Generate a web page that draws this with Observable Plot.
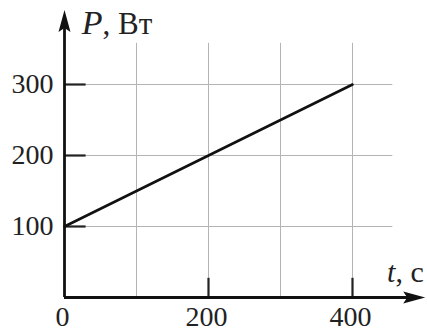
<!DOCTYPE html>
<html>
<head>
<meta charset="utf-8">
<script src="https://cdn.jsdelivr.net/npm/d3@7"></script>
<script src="https://cdn.jsdelivr.net/npm/@observablehq/plot@0.6"></script>
<style>
  html, body { margin: 0; padding: 0; background: #fff; }
  svg { display: block; }
</style>
</head>
<body>
<div id="chart"></div>
<script>
// Data
const times = [0, 400];          // t, c
const powers = [100, 300];       // P, Вт
const xGrid = [100, 200, 300, 400];
const yGrid = [100, 200, 300];
const xTickLabels = [0, 200, 400];
const xTickMarks = [200, 400];
const yTickLabels = [100, 200, 300];
const yLabel = "P, Вт";
const xLabel = "t, c";

const series = times.map((t, i) => ({t, p: powers[i]}));

const font = "Liberation Serif, Times New Roman, serif";
const arrowHead = {
  draw(context, l) {
    context.moveTo(0, -l);
    context.lineTo(-6, 0);
    context.lineTo(0, -4);
    context.lineTo(6, 0);
    context.closePath();
  }
};

const chart = Plot.plot({
  width: 427,
  height: 332,
  style: {fontFamily: font, background: "#fff", color: "#111"},
  x: {domain: [0, 400], range: [64, 352], axis: null},
  y: {domain: [0, 300], range: [297, 84], axis: null},
  marks: [
    // grid
    Plot.ruleX(xGrid, {x: d => d, y1: 0, y2: 358, stroke: "#b4b4b4", strokeWidth: 1}),
    Plot.ruleY(yGrid, {y: d => d, x1: 0, x2: 456, stroke: "#b4b4b4", strokeWidth: 1}),
    // tick marks
    Plot.ruleY(yTickLabels, {y: d => d, x1: 0, x2: 30, stroke: "#222", strokeWidth: 2.2}),
    Plot.ruleX(xTickMarks, {x: d => d, y1: 0, y2: 27, stroke: "#222", strokeWidth: 2.2}),
    // axes
    Plot.ruleX([0], {y1: 0, y2: 385, stroke: "#111", strokeWidth: 2.8}),
    Plot.ruleY([0], {x1: 0, x2: 490, stroke: "#111", strokeWidth: 2.8}),
    Plot.vector([0], {x: 0, y: 405, length: 22, rotate: 0, anchor: "end", shape: arrowHead, fill: "#111", stroke: "none"}),
    Plot.vector([0], {x: 501, y: 0, length: 22, rotate: 90, anchor: "end", shape: arrowHead, fill: "#111", stroke: "none"}),
    // data line
    Plot.line(series, {x: "t", y: "p", stroke: "#111", strokeWidth: 2.6}),
    // tick labels
    Plot.text(yTickLabels, {x: 0, y: d => d, text: d => String(d), dx: -11, textAnchor: "end", fontSize: 28, fill: "#222"}),
    Plot.text(xTickLabels, {x: d => d, y: 0, text: d => String(d), dx: -2, dy: 20, textAnchor: "middle", fontSize: 28, fill: "#222"}),
    // axis labels
    Plot.text([yLabel], {x: 24, y: 385, text: d => d, textAnchor: "start", fontSize: 31, fill: "#222"}),
    Plot.text([xLabel], {x: 499, y: 35, text: d => d, textAnchor: "end", fontSize: 30, fill: "#222"})
  ]
});

// Italicize the variable letters in the axis labels
chart.querySelectorAll("text").forEach(el => {
  const s = el.textContent;
  if (s === yLabel || s === xLabel) {
    const host = el.querySelector("tspan") || el;
    const letter = s[0], rest = s.slice(1);
    host.textContent = "";
    const it = document.createElementNS("http://www.w3.org/2000/svg", "tspan");
    it.setAttribute("font-style", "italic");
    if (s === yLabel) it.setAttribute("font-size", "34");
    it.textContent = letter;
    host.appendChild(it);
    host.appendChild(document.createTextNode(rest));
  }
});

document.getElementById("chart").appendChild(chart);
</script>
</body>
</html>
